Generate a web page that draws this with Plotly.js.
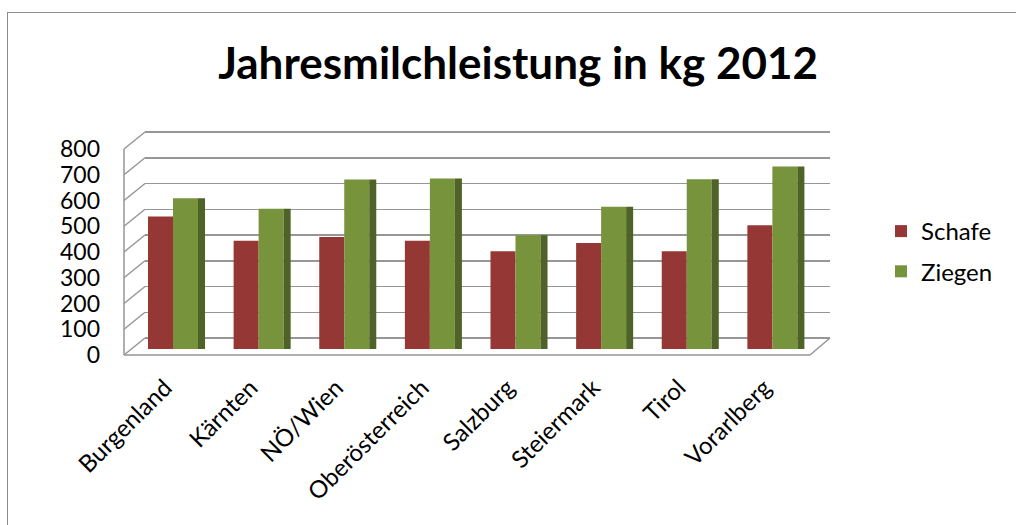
<!DOCTYPE html>
<html>
<head>
<meta charset="utf-8">
<script src="https://cdn.plot.ly/plotly-3.0.1.min.js"></script>
<style>
  html, body { margin: 0; padding: 0; background: #ffffff; overflow: hidden; }
  #frame { position: absolute; left: 7px; top: 12px; width: 1200px; height: 700px;
           border: 1.5px solid #8c8c8c; box-sizing: border-box; }
  #chart { position: absolute; left: 0; top: 0; width: 1016px; height: 525px; }
</style>
</head>
<body>
<div id="frame"></div>
<div id="chart"></div>
<script>
// ---- data ----
const categories = ['Burgenland', 'Kärnten', 'NÖ/Wien', 'Oberösterreich', 'Salzburg', 'Steiermark', 'Tirol', 'Vorarlberg'];
const schafe = [515, 420, 435, 420, 380, 412, 380, 481];
const ziegen = [585, 545, 658, 662, 442, 552, 659, 709];
const yTicks = [0, 100, 200, 300, 400, 500, 600, 700, 800];
const seriesNames = ['Schafe', 'Ziegen'];
const chartTitle = 'Jahresmilchleistung in kg 2012';

// ---- geometry (pixels) ----
const W = 1016, H = 525;
const mL = 100, mR = 186, plotTop = 128, plotBottom = 358;
const k = 0.2575;               // px per unit
const barZero = 349, backZero = 338, frontZero = 355;
const frontX = 124, backX = 145, floorRight = 810;
function rangeFor(zeroPx) { return [-(plotBottom - zeroPx) / k, (zeroPx - plotTop) / k]; }
function px2paper(px) { return (px - mL) / (W - mL - mR); }
const depthUnits = (frontZero - backZero) / k;
const xRange = [-0.327, 7.673];
const labelShift = 8 / 85.64;    // labels drawn slightly left of the bar group centre

const FONT = 'Lato, "Open Sans", sans-serif';
const RED = '#953735', GREEN = '#77933C', GREEN_SIDE = '#4F6228';
const LINE = '#969696';

const traces = [
  { type: 'bar', name: seriesNames[0], x: categories, y: schafe, yaxis: 'y',
    width: 0.292, offset: -0.292, marker: { color: RED }, legendgroup: 'a' },
  { type: 'bar', name: seriesNames[1], x: categories, y: ziegen, yaxis: 'y',
    width: 0.292, offset: 0, marker: { color: GREEN }, legendgroup: 'b' },
  { type: 'bar', name: seriesNames[1] + ' side', x: categories, y: ziegen, yaxis: 'y',
    width: 0.082, offset: 0.292, marker: { color: GREEN_SIDE }, showlegend: false, hoverinfo: 'skip' }
];

// wall / floor decoration
const shapes = [];
const lineStyle = { color: LINE, width: 1.5 };
yTicks.forEach(v => {
  shapes.push({ type: 'line', xref: 'paper', yref: 'y3',
    x0: px2paper(frontX), y0: v, x1: px2paper(backX), y1: v + depthUnits, line: lineStyle });
});
shapes.push({ type: 'line', xref: 'paper', yref: 'y3', x0: px2paper(frontX), y0: 0,
  x1: px2paper(frontX), y1: yTicks[yTicks.length - 1], line: lineStyle });
shapes.push({ type: 'line', xref: 'paper', yref: 'y3', x0: px2paper(frontX), y0: 0,
  x1: px2paper(floorRight), y1: 0, line: lineStyle });
shapes.push({ type: 'line', xref: 'paper', yref: 'y3', x0: px2paper(floorRight), y0: 0,
  x1: 1, y1: depthUnits, line: lineStyle });

const layout = {
  width: W, height: H,
  margin: { l: mL, r: mR, t: plotTop, b: H - plotBottom, pad: 0 },
  paper_bgcolor: 'rgba(0,0,0,0)', plot_bgcolor: 'rgba(0,0,0,0)',
  font: { family: FONT, color: '#000000', size: 23 },
  title: { text: '<b>' + chartTitle + '</b>', font: { family: FONT, size: 44, color: '#000' },
    xref: 'container', yref: 'container', x: 0.51, xanchor: 'center', y: 1 - 64 / H, yanchor: 'middle' },
  barmode: 'overlay',
  xaxis: { type: 'category', domain: [px2paper(backX), 1], range: xRange,
    showline: false, showgrid: false, zeroline: false, ticks: '', showticklabels: false },
  xaxis2: { type: 'category', overlaying: 'x', side: 'bottom', anchor: 'y',
    range: [xRange[0] + labelShift, xRange[1] + labelShift],
    showline: false, showgrid: false, zeroline: false, ticks: '', tickangle: -45,
    tickfont: { family: FONT, size: 24 }, ticklabelstandoff: 10, automargin: false },
  yaxis: { range: rangeFor(barZero), showgrid: false, zeroline: false, showticklabels: false, showline: false },
  yaxis2: { overlaying: 'y', range: rangeFor(backZero), showgrid: true, gridcolor: LINE, gridwidth: 1.5,
    tickvals: yTicks, zeroline: false, showticklabels: false, showline: false, ticks: '' },
  yaxis3: { overlaying: 'y', anchor: 'free', position: 0, side: 'left', range: rangeFor(frontZero),
    tickvals: yTicks, showgrid: false, zeroline: false, showline: false, ticks: '',
    tickfont: { family: FONT, size: 23 }, automargin: false },
  legend: { x: px2paper(881), xanchor: 'left', y: (plotBottom - 209) / (plotBottom - plotTop), yanchor: 'top',
    font: { family: FONT, size: 24 }, tracegroupgap: 6, traceorder: 'grouped', bgcolor: 'rgba(0,0,0,0)' },
  shapes: shapes,
  showlegend: true
};

// invisible helper traces so that the label / grid axes are rendered
traces.push({ type: 'scatter', x: categories, y: categories.map(() => 0), xaxis: 'x2', yaxis: 'y', mode: 'markers',
  marker: { opacity: 0 }, showlegend: false, hoverinfo: 'skip' });
traces.push({ type: 'scatter', x: [categories[0]], y: [0], yaxis: 'y2', mode: 'markers',
  marker: { opacity: 0 }, showlegend: false, hoverinfo: 'skip' });
traces.push({ type: 'scatter', x: [categories[0]], y: [0], yaxis: 'y3', mode: 'markers',
  marker: { opacity: 0 }, showlegend: false, hoverinfo: 'skip' });

Plotly.newPlot('chart', traces, layout, { displayModeBar: false, staticPlot: true });
</script>
</body>
</html>
